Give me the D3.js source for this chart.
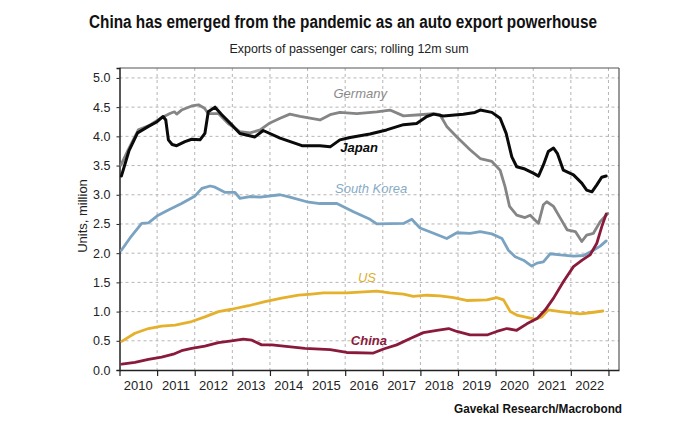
<!DOCTYPE html>
<html><head><meta charset="utf-8">
<script src="https://cdn.jsdelivr.net/npm/d3@7"></script>
<style>html,body{margin:0;padding:0;background:#fff;}svg{display:block;}</style>
</head><body>
<svg id="chart" width="700" height="442"></svg>
<script>
const title = "China has emerged from the pandemic as an auto export powerhouse";
const subtitle = "Exports of passenger cars; rolling 12m sum";
const source = "Gavekal Research/Macrobond";
const yLabel = "Units, million";
const yTicks = [0, 0.5, 1, 1.5, 2, 2.5, 3, 3.5, 4, 4.5, 5];
const yearTicks = [2010,2011,2012,2013,2014,2015,2016,2017,2018,2019,2020,2021,2022,2023];
const yearLabels = ["2010","2011","2012","2013","2014","2015","2016","2017","2018","2019","2020","2021","2022"];

const japan = [[2010.05,3.32],[2010.25,3.75],[2010.48,4.06],[2010.77,4.17],[2011.0,4.25],[2011.16,4.34],[2011.23,4.28],[2011.30,3.94],[2011.4,3.86],[2011.52,3.84],[2011.74,3.91],[2011.92,3.95],[2012.14,3.94],[2012.27,4.05],[2012.36,4.42],[2012.54,4.50],[2012.72,4.37],[2012.98,4.20],[2013.2,4.05],[2013.6,3.99],[2013.82,4.10],[2014.27,3.97],[2014.85,3.84],[2015.33,3.84],[2015.6,3.82],[2015.86,3.94],[2016.13,3.98],[2016.66,4.04],[2017.1,4.11],[2017.55,4.20],[2017.9,4.22],[2018.17,4.34],[2018.35,4.38],[2018.61,4.35],[2019.14,4.38],[2019.45,4.41],[2019.59,4.45],[2019.9,4.41],[2020.12,4.31],[2020.28,4.05],[2020.43,3.65],[2020.56,3.48],[2020.78,3.44],[2021.0,3.37],[2021.14,3.32],[2021.27,3.51],[2021.4,3.74],[2021.54,3.80],[2021.64,3.71],[2021.8,3.42],[2022.07,3.34],[2022.29,3.20],[2022.42,3.08],[2022.56,3.05],[2022.69,3.17],[2022.82,3.30],[2022.94,3.32]];
const germany = [[2010.04,3.51],[2010.23,3.77],[2010.5,4.11],[2010.77,4.18],[2011.12,4.32],[2011.34,4.39],[2011.46,4.42],[2011.52,4.38],[2011.65,4.45],[2011.92,4.52],[2012.1,4.54],[2012.26,4.48],[2012.36,4.39],[2012.63,4.39],[2012.89,4.22],[2013.2,4.08],[2013.47,4.06],[2013.74,4.11],[2014.0,4.23],[2014.27,4.31],[2014.53,4.38],[2014.8,4.34],[2015.33,4.28],[2015.6,4.37],[2015.86,4.41],[2016.31,4.39],[2016.84,4.42],[2017.19,4.45],[2017.55,4.35],[2017.99,4.37],[2018.35,4.39],[2018.52,4.37],[2018.7,4.17],[2018.97,3.99],[2019.32,3.77],[2019.59,3.62],[2019.9,3.57],[2020.12,3.42],[2020.25,3.14],[2020.37,2.80],[2020.56,2.65],[2020.78,2.61],[2020.92,2.65],[2021.14,2.51],[2021.27,2.83],[2021.36,2.88],[2021.54,2.80],[2021.72,2.60],[2021.9,2.40],[2022.12,2.37],[2022.29,2.20],[2022.42,2.31],[2022.6,2.34],[2022.78,2.54],[2022.98,2.68]];
const southKorea = [[2010.05,2.05],[2010.28,2.26],[2010.59,2.51],[2010.77,2.52],[2011.03,2.65],[2011.3,2.74],[2011.65,2.85],[2012.01,2.98],[2012.19,3.11],[2012.41,3.15],[2012.54,3.13],[2012.81,3.04],[2013.07,3.04],[2013.2,2.94],[2013.47,2.97],[2013.74,2.96],[2014.27,3.00],[2014.53,2.96],[2014.98,2.88],[2015.33,2.85],[2015.78,2.85],[2016.22,2.71],[2016.66,2.58],[2016.84,2.50],[2017.55,2.51],[2017.77,2.58],[2017.99,2.43],[2018.35,2.34],[2018.7,2.25],[2018.97,2.35],[2019.32,2.34],[2019.59,2.37],[2019.9,2.33],[2020.17,2.25],[2020.34,2.05],[2020.52,1.94],[2020.74,1.88],[2020.96,1.78],[2021.1,1.83],[2021.27,1.85],[2021.45,1.99],[2021.72,1.97],[2022.07,1.95],[2022.34,1.96],[2022.6,2.05],[2022.78,2.12],[2022.94,2.21]];
const us = [[2010.06,0.49],[2010.41,0.63],[2010.77,0.71],[2011.12,0.75],[2011.48,0.77],[2011.92,0.83],[2012.27,0.91],[2012.63,1.0],[2012.98,1.04],[2013.43,1.10],[2013.87,1.17],[2014.31,1.23],[2014.76,1.28],[2015.11,1.30],[2015.42,1.32],[2016.04,1.32],[2016.84,1.35],[2017.19,1.32],[2017.55,1.30],[2017.81,1.26],[2018.17,1.28],[2018.52,1.27],[2018.88,1.24],[2019.23,1.19],[2019.77,1.20],[2020.03,1.24],[2020.21,1.20],[2020.39,1.0],[2020.56,0.94],[2020.83,0.90],[2021.05,0.87],[2021.23,0.91],[2021.4,1.03],[2021.72,1.0],[2022.25,0.96],[2022.51,0.98],[2022.85,1.01]];
const china = [[2010.06,0.10],[2010.41,0.13],[2010.77,0.18],[2011.12,0.22],[2011.43,0.27],[2011.65,0.33],[2011.92,0.37],[2012.27,0.41],[2012.63,0.47],[2012.98,0.50],[2013.29,0.53],[2013.52,0.51],[2013.78,0.43],[2014.05,0.43],[2014.49,0.40],[2014.93,0.37],[2015.6,0.35],[2016.04,0.30],[2016.75,0.29],[2017.02,0.36],[2017.37,0.43],[2017.73,0.54],[2018.08,0.64],[2018.44,0.68],[2018.75,0.71],[2018.97,0.66],[2019.32,0.60],[2019.77,0.60],[2020.03,0.66],[2020.3,0.71],[2020.56,0.68],[2020.83,0.79],[2021.1,0.88],[2021.32,1.03],[2021.54,1.23],[2021.8,1.51],[2022.07,1.77],[2022.3,1.88],[2022.51,1.97],[2022.69,2.17],[2022.82,2.45],[2022.94,2.67]];

const seriesNames = ["Germany","Japan","South Korea","US","China"];
const seriesData = [germany, japan, southKorea, us, china];
const seriesColors = ["#858585","#0a0a0a","#7aa3c2","#e5b12c","#8a1a3b"];
const labelColors = ["#8a8a8a","#0a0a0a","#86abc6","#dcae2e","#8a1a3b"];
const labelPos = [[2016.4,4.65],[2016.37,3.73],[2016.69,3.03],[2016.58,1.50],[2016.63,0.43]];
const labelBold = [false,true,false,false,true];

const svg = d3.select("#chart");
const mLeft = 119.5, mRight = 619, mTop = 68, mBottom = 370;
const x = d3.scaleLinear().domain([2010, 2023.28]).range([mLeft, mRight]);
const y = d3.scaleLinear().domain([0, 5.17]).range([mBottom, mTop]);
const font = "'Liberation Sans', Arial, sans-serif";

svg.append("rect").attr("width",700).attr("height",442).attr("fill","#fff");

// title
svg.append("text").attr("x",343).attr("y",28).attr("text-anchor","middle")
  .attr("font-family",font).attr("font-weight","bold").attr("font-size",18)
  .attr("textLength",508).attr("lengthAdjust","spacingAndGlyphs").attr("fill","#111").text(title);
svg.append("text").attr("x",349).attr("y",53).attr("text-anchor","middle")
  .attr("font-family",font).attr("font-size",13)
  .attr("textLength",239).attr("lengthAdjust","spacingAndGlyphs").attr("fill","#222").text(subtitle);

// grid
const g = svg.append("g");
g.selectAll("line.hg").data(yTicks.filter(d=>d>0)).join("line")
  .attr("x1",mLeft).attr("x2",mRight).attr("y1",d=>y(d)).attr("y2",d=>y(d))
  .attr("stroke","#b5b5b5").attr("stroke-width",1).attr("stroke-dasharray","3,3");
g.selectAll("line.vg").data(yearTicks.slice(1)).join("line")
  .attr("x1",d=>x(d)).attr("x2",d=>x(d)).attr("y1",mTop).attr("y2",mBottom)
  .attr("stroke","#b5b5b5").attr("stroke-width",1).attr("stroke-dasharray","3,3");

// frame top and right
svg.append("line").attr("x1",mLeft).attr("x2",mRight).attr("y1",mTop).attr("y2",mTop).attr("stroke","#555").attr("stroke-width",1.2);
svg.append("line").attr("x1",mRight).attr("x2",mRight).attr("y1",mTop).attr("y2",mBottom).attr("stroke","#555").attr("stroke-width",1.2);

// axes
const yAxis = d3.axisLeft(y).tickValues(yTicks).tickFormat(d3.format(".1f")).tickSize(3).tickPadding(6);
const ya = svg.append("g").attr("transform",`translate(${mLeft},0)`).call(yAxis);
ya.select(".domain").attr("stroke","#222").attr("stroke-width",1.5);
ya.selectAll(".tick line").attr("stroke","#222");
ya.selectAll("text").attr("font-family",font).attr("font-size",12.5).attr("fill","#222");

const xAxis = d3.axisBottom(x).tickValues(yearTicks).tickFormat("").tickSize(6).tickSizeOuter(0);
const xa = svg.append("g").attr("transform",`translate(0,${mBottom})`).call(xAxis);
xa.select(".domain").attr("stroke","#222").attr("stroke-width",1.5);
xa.selectAll(".tick line").attr("stroke","#222").attr("stroke-width",1.2);
svg.append("g").selectAll("text").data(yearLabels).join("text")
  .attr("x",d=>x(+d+0.5)).attr("y",390).attr("text-anchor","middle")
  .attr("font-family",font).attr("font-size",13).attr("fill","#222").text(d=>d);

svg.append("text").attr("transform","translate(87,216) rotate(-90)").attr("text-anchor","middle")
  .attr("font-family",font).attr("font-size",13).attr("fill","#222").text(yLabel);

// lines
const line = d3.line().x(d=>x(d[0])).y(d=>y(d[1])).curve(d3.curveLinear);
svg.append("g").selectAll("path").data(seriesData).join("path")
  .attr("d",line).attr("fill","none")
  .attr("stroke",(d,i)=>seriesColors[i]).attr("stroke-width",(d,i)=>i===1?3:2.8)
  .attr("stroke-linejoin","round").attr("stroke-linecap","round");

// labels
svg.append("g").selectAll("text").data(seriesNames).join("text")
  .attr("x",(d,i)=>x(labelPos[i][0])).attr("y",(d,i)=>y(labelPos[i][1]))
  .attr("text-anchor","middle").attr("font-family",font).attr("font-style","italic")
  .attr("font-weight",(d,i)=>labelBold[i]?"bold":"normal").attr("font-size",13)
  .attr("fill",(d,i)=>labelColors[i]).text(d=>d);

svg.append("text").attr("x",622).attr("y",413).attr("text-anchor","end")
  .attr("font-family",font).attr("font-weight","bold").attr("font-size",12.5)
  .attr("textLength",168).attr("lengthAdjust","spacingAndGlyphs").attr("fill","#111").text(source);
</script>
</body></html>
